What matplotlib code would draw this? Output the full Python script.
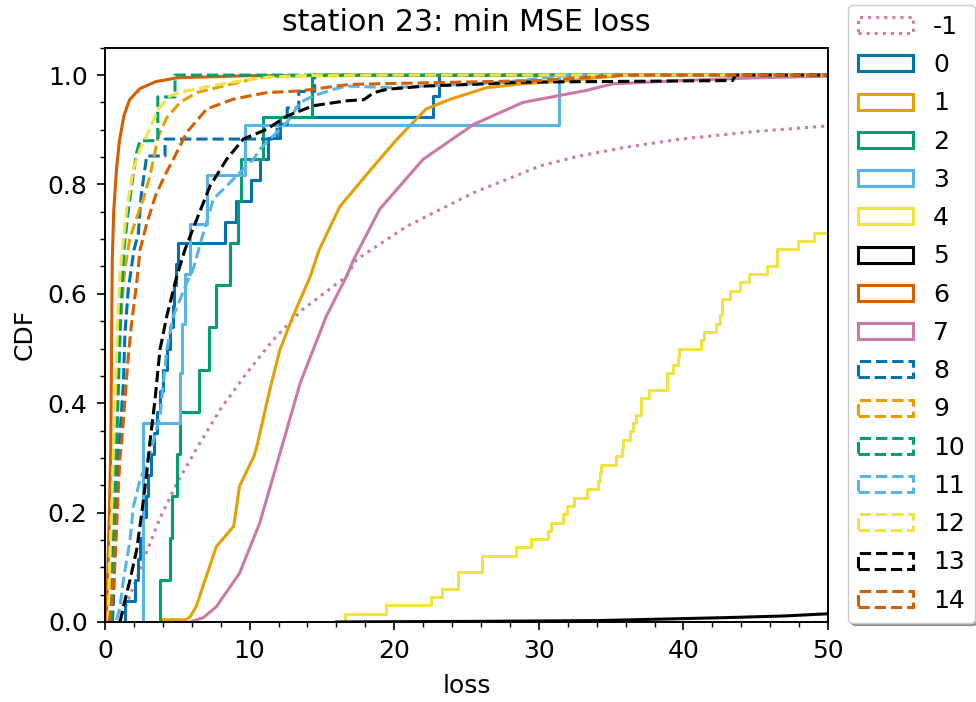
import numpy as np
import matplotlib.pyplot as plt
from matplotlib.patches import Patch
from matplotlib.ticker import MultipleLocator

# station 23 : CDF of min MSE loss per cluster label
labels = ['-1', '0', '1', '2', '3', '4', '5', '6', '7',
          '8', '9', '10', '11', '12', '13', '14']
palette = ['#0072B2', '#E69F00', '#009E73', '#56B4E9',
           '#F0E442', '#000000', '#D55E00', '#CC79A7']

# small clusters: raw loss samples (n = total count)
s0 = [1.38, 2.1, 2.3, 2.45, 2.6, 2.8, 3.0, 3.2, 3.4, 3.6, 3.8, 4.0, 4.3,
      4.5, 4.7, 4.8, 4.9, 5.05, 8.3, 9.06, 10.1, 10.7, 11.3, 12.1, 22.7, 23.1]
n0 = 26
s2 = [3.8, 4.5, 4.6, 4.95, 5.2, 6.5, 7.2, 7.7, 8.65, 9.2, 9.4, 10.95, 14.3]
n2 = 13
s3 = [2.65, 2.65, 2.65, 2.65, 5.19, 5.35, 5.5, 5.88, 7.03, 9.68, 31.4]
n3 = 11
s4 = [16.6, 19.43, 22.55, 23.31, 24.44, 24.44, 26.05, 26.05, 28.42, 29.44,
      30.66, 30.82, 31.65, 31.93, 32.43, 33.36, 34.1, 34.2, 34.3, 35.34,
      35.73, 35.85, 36.3, 36.5, 36.7, 37.1, 37.1, 37.6, 38.85, 38.85, 39.3,
      39.65, 39.7, 41.2, 41.4, 42.25, 42.5, 42.7, 42.7, 43.2, 43.9, 44.5,
      45.8, 46.45, 46.5, 47.95, 49.0]
n4 = 66

# large clusters: cdf read as (loss, cdf) points
xm1 = [1.0, 1.6, 2.2, 2.9, 3.8, 5.0, 6.4, 8.0, 9.8, 11.6, 13.6, 16.7, 17.4,
       20.9, 25.5, 30.1, 32.8, 36.0, 39.8, 45.0, 50.0]
ym1 = [0.0, 0.04, 0.08, 0.13, 0.19, 0.255, 0.32, 0.39, 0.455, 0.515, 0.57,
       0.632, 0.663, 0.724, 0.785, 0.834, 0.852, 0.868, 0.883, 0.897, 0.907]
x1 = [3.9, 3.9, 5.6, 5.9, 6.3, 7.7, 8.9, 9.3, 10.3, 10.5, 11.4, 12.1, 13.0,
      14.2, 14.8, 16.25, 18.6, 20.2, 22.2, 23.9, 26.4, 28.9, 32.0, 36.0, 50.0]
y1 = [0.0, 0.004, 0.004, 0.01, 0.028, 0.138, 0.175, 0.248, 0.303, 0.321,
      0.425, 0.498, 0.559, 0.632, 0.68, 0.76, 0.834, 0.883, 0.938, 0.956,
      0.977, 0.984, 0.99, 1.0, 1.0]
x5 = [16.0, 25.0, 34.0, 43.0, 47.0, 50.0]
y5 = [0.0, 0.001, 0.0025, 0.008, 0.011, 0.015]
x6 = [0.05, 0.1, 0.2, 0.3, 0.4, 0.45, 0.5, 0.6, 0.8, 1.0, 1.3, 1.7, 2.4,
      3.5, 5.0, 10.0, 50.0]
y6 = [0.0, 0.02, 0.1, 0.2, 0.32, 0.5, 0.66, 0.75, 0.83, 0.88, 0.925, 0.955,
      0.975, 0.988, 0.995, 0.999, 1.0]
x7 = [5.9, 6.8, 7.7, 9.3, 10.7, 12.3, 13.5, 15.3, 16.7, 17.2, 19.0, 22.0,
      25.5, 28.9, 33.3, 35.1, 39.8, 45.0, 50.0]
y7 = [0.0, 0.008, 0.028, 0.089, 0.181, 0.327, 0.437, 0.559, 0.632, 0.663,
      0.755, 0.846, 0.910, 0.950, 0.972, 0.984, 0.990, 0.995, 0.998]
x8 = [0.5, 0.57, 0.69, 0.81, 0.92, 1.04, 1.27, 1.38, 1.61, 2.0, 2.3, 2.5,
      2.88, 4.15, 4.15, 11.9, 11.9, 12.6, 12.6, 13.4, 13.4, 14.5, 14.5, 50.0]
y8 = [0.0, 0.028, 0.12, 0.211, 0.303, 0.345, 0.437, 0.529, 0.608, 0.68,
      0.71, 0.78, 0.852, 0.852, 0.883, 0.883, 0.91, 0.91, 0.94, 0.94, 0.97,
      0.97, 1.0, 1.0]
x9 = [0.25, 0.4, 0.55, 0.7, 0.9, 1.1, 1.35, 1.7, 2.2, 2.65, 3.11, 3.69,
      4.27, 5.19, 6.34, 8.18, 10.7, 15.0, 50.0]
y9 = [0.0, 0.1, 0.2, 0.32, 0.45, 0.56, 0.64, 0.7, 0.74, 0.773, 0.816,
      0.889, 0.922, 0.95, 0.968, 0.98, 0.996, 1.0, 1.0]
x10 = [0.45, 0.55, 0.65, 0.8, 0.95, 1.1, 1.3, 1.6, 1.96, 2.2, 2.42, 3.65,
       3.65, 4.84, 4.84, 50.0]
y10 = [0.0, 0.1, 0.2, 0.32, 0.45, 0.58, 0.68, 0.75, 0.82, 0.86, 0.88, 0.88,
       0.96, 0.96, 1.0, 1.0]
x11 = [0.81, 1.04, 1.27, 1.73, 1.96, 2.42, 2.88, 3.34, 3.8, 4.27, 4.72,
       5.65, 6.1, 6.57, 7.49, 9.34, 10.26, 10.7, 11.4, 12.57, 13.5, 14.4,
       15.8, 16.7, 19.7, 27.8, 32.0, 50.0]
y11 = [0.004, 0.028, 0.077, 0.15, 0.211, 0.26, 0.29, 0.33, 0.376, 0.498,
       0.559, 0.62, 0.645, 0.69, 0.773, 0.822, 0.846, 0.864, 0.883, 0.913,
       0.95, 0.962, 0.974, 0.98, 0.977, 0.987, 1.0, 1.0]
x12 = [0.2, 0.3, 0.45, 0.6, 0.75, 0.9, 1.05, 1.15, 1.5, 1.96, 2.42, 2.88,
       3.69, 4.5, 5.65, 7.26, 8.87, 11.2, 13.5, 20.0, 50.0]
y12 = [0.0, 0.1, 0.2, 0.33, 0.45, 0.57, 0.64, 0.669, 0.755, 0.828, 0.864,
       0.889, 0.938, 0.962, 0.971, 0.98, 0.987, 0.996, 0.999, 1.0, 1.0]
x13 = [1.04, 1.27, 1.73, 2.19, 2.54, 2.88, 3.11, 3.46, 3.8, 4.27, 4.96,
       5.53, 6.34, 7.26, 8.41, 9.56, 11.2, 12.57, 14.4, 16.7, 17.9, 18.6,
       19.5, 22.2, 26.4, 28.9, 33.3, 43.4, 43.6, 50.0]
y13 = [0.0, 0.028, 0.077, 0.132, 0.199, 0.272, 0.33, 0.407, 0.498, 0.559,
       0.632, 0.681, 0.736, 0.797, 0.846, 0.883, 0.901, 0.925, 0.944, 0.953,
       0.955, 0.968, 0.974, 0.98, 0.984, 0.987, 0.988, 0.99, 1.0, 1.0]
x14 = [0.3, 0.57, 0.76, 0.92, 1.04, 1.15, 1.38, 1.61, 1.84, 2.19, 2.42,
       2.9, 3.5, 4.2, 4.72, 5.65, 7.03, 8.87, 11.2, 13.5, 16.9, 30.0, 36.0,
       50.0]
y14 = [0.0, 0.059, 0.15, 0.242, 0.303, 0.327, 0.407, 0.486, 0.547, 0.62,
       0.68, 0.73, 0.78, 0.82, 0.846, 0.895, 0.938, 0.956, 0.968, 0.971,
       0.983, 0.99, 1.0, 1.0]

XMAX = 50.0
LW = 2.2
FS = 18

fig = plt.figure(figsize=(9.76, 7.02), dpi=100)
ax = fig.add_axes([0.1076, 0.114, 0.7408, 0.818])


def ecdf(ax, s, n, **kw):
    s = np.sort(np.asarray(s, dtype=float))
    k = np.arange(1, len(s) + 1) / n
    xs = np.r_[s[0], s, XMAX]
    ys = np.r_[0.0, k, k[-1]]
    ax.step(xs, ys, where='post', **kw)


ax.plot(xm1, ym1, color=palette[7], ls=':', lw=LW)
ecdf(ax, s0, n0, color=palette[0], lw=LW)
ax.plot(x1, y1, color=palette[1], lw=LW)
ecdf(ax, s2, n2, color=palette[2], lw=LW)
ecdf(ax, s3, n3, color=palette[3], lw=LW)
ecdf(ax, s4, n4, color=palette[4], lw=LW)
ax.plot(x5, y5, color=palette[5], lw=LW)
ax.plot(x6, y6, color=palette[6], lw=LW)
ax.plot(x7, y7, color=palette[7], lw=LW)
dashed = [(x8, y8), (x9, y9), (x10, y10), (x11, y11), (x12, y12),
          (x13, y13), (x14, y14)]
for i, (xx, yy) in enumerate(dashed):
    ax.plot(xx, yy, color=palette[i], ls='--', lw=LW)

ax.set_xlim(0, 50)
ax.set_ylim(0, 1.05)
ax.xaxis.set_major_locator(MultipleLocator(10))
ax.xaxis.set_minor_locator(MultipleLocator(2))
ax.yaxis.set_major_locator(MultipleLocator(0.2))
ax.yaxis.set_minor_locator(MultipleLocator(0.05))
ax.tick_params(labelsize=FS, width=1.2, length=5.5, pad=7)
ax.tick_params(which='minor', width=1.0, length=3.5)
for sp in ax.spines.values():
    sp.set_linewidth(1.4)
ax.set_xlabel('loss', fontsize=FS, labelpad=8)
ax.set_ylabel('CDF', fontsize=FS, labelpad=8)
ax.set_title('station 23: min MSE loss', fontsize=FS * 1.2, pad=12)

# legend handles look like hist step patches
handles = [Patch(fill=False, edgecolor=palette[7], ls=':', lw=LW)]
handles += [Patch(fill=False, edgecolor=c, lw=LW) for c in palette]
handles += [Patch(fill=False, edgecolor=c, ls='--', lw=LW) for c in palette[:7]]
fig.legend(handles, labels, loc='upper left', bbox_to_anchor=(0.869, 0.993),
           fontsize=FS, shadow=True, fancybox=True, labelspacing=0.57,
           handlelength=2.2, handleheight=0.6, borderaxespad=0.0)

fig.savefig('out.png', dpi=100)
